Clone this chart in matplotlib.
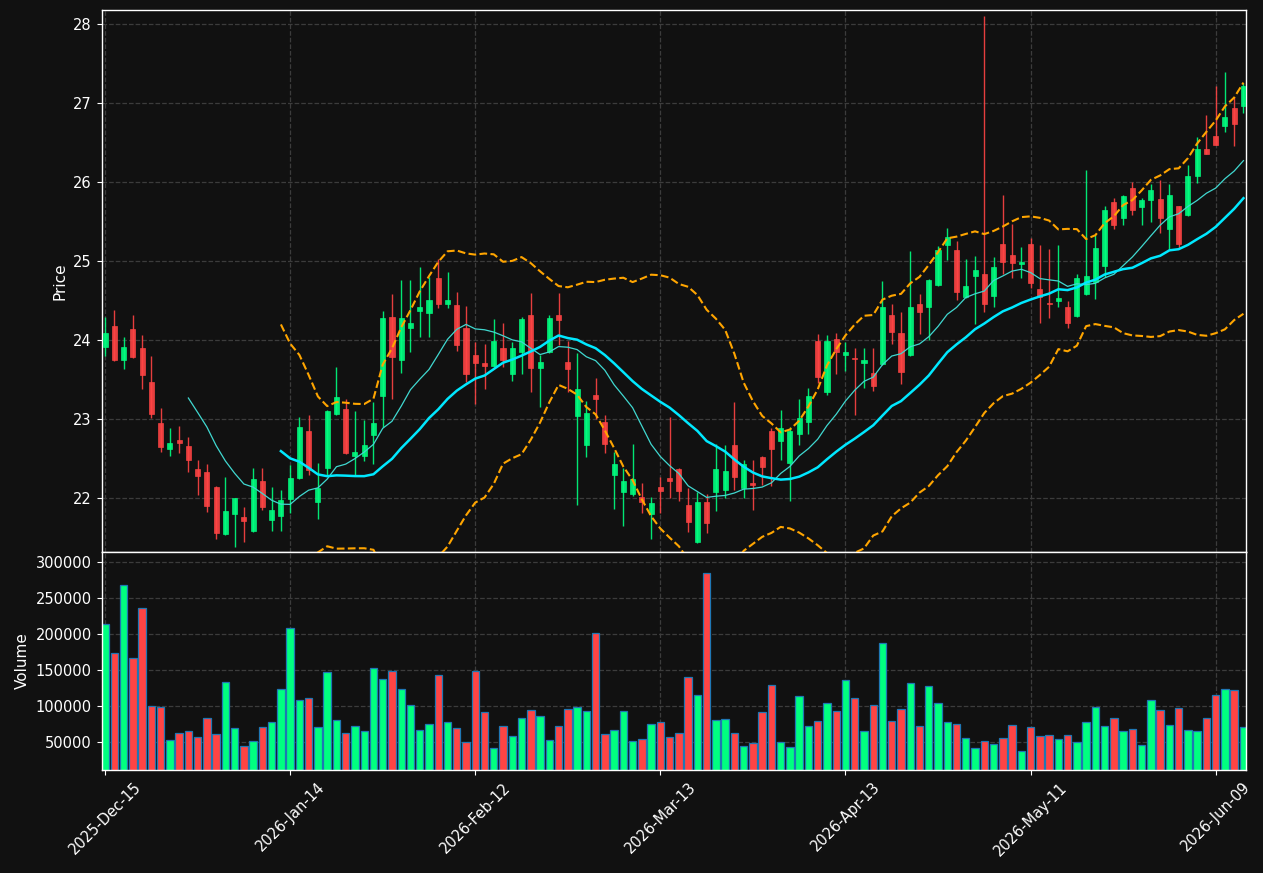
import numpy as np
import pandas as pd
import matplotlib
matplotlib.use("Agg")
import matplotlib.pyplot as plt
from matplotlib.ticker import ScalarFormatter

# daily OHLCV, one value per trading day (124 bars)
opens = [23.91, 24.18, 23.74, 24.14, 23.89, 23.47, 22.94, 22.62, 22.73, 22.65,
         22.36, 22.32, 22.14, 21.54, 21.79, 21.75, 21.57, 22.21, 21.72, 21.77,
         21.98, 22.25, 22.84, 21.95, 22.37, 23.06, 23.12, 22.53, 22.53, 22.79,
         23.29, 24.29, 23.75, 24.15, 24.36, 24.34, 24.78, 24.46, 24.44, 24.15,
         23.81, 23.70, 23.67, 23.89, 23.57, 23.84, 24.32, 23.64, 23.84, 24.32,
         23.72, 23.03, 22.67, 23.30, 22.96, 22.28, 22.07, 22.04, 22.01, 21.79,
         22.14, 22.25, 22.36, 21.90, 21.44, 21.95, 22.07, 22.09, 22.66, 22.12,
         22.19, 22.52, 22.84, 22.72, 22.44, 22.81, 22.96, 23.99, 23.34, 24.01,
         23.81, 23.77, 23.71, 23.58, 23.69, 24.31, 24.08, 23.81, 24.46, 24.41,
         24.70, 25.20, 25.14, 24.54, 24.81, 24.83, 24.56, 25.22, 25.08, 24.96,
         25.22, 24.65, 24.46, 24.49, 24.41, 24.30, 24.58, 24.73, 24.93, 25.75,
         25.55, 25.93, 25.68, 25.77, 25.78, 25.41, 25.69, 25.58, 26.07, 26.42,
         26.58, 26.71, 26.94, 26.96]
highs = [24.29, 24.38, 24.04, 24.31, 24.06, 23.79, 23.14, 22.88, 22.91, 22.77,
         22.47, 22.42, 22.15, 22.26, 22.00, 21.88, 22.38, 22.38, 22.13, 22.10,
         22.41, 23.02, 23.05, 22.44, 23.11, 23.65, 23.25, 23.10, 22.98, 23.21,
         24.37, 24.58, 24.76, 24.76, 24.92, 24.79, 25.03, 24.86, 24.61, 24.43,
         23.97, 23.95, 24.26, 24.21, 23.97, 24.29, 24.59, 23.81, 24.31, 24.59,
         23.98, 23.83, 23.23, 23.52, 23.05, 22.58, 22.37, 22.68, 22.18, 22.01,
         22.26, 23.02, 22.38, 22.12, 22.07, 22.04, 22.68, 22.67, 23.21, 22.47,
         22.47, 22.53, 22.88, 23.11, 22.90, 23.25, 23.39, 24.07, 24.06, 24.09,
         23.97, 23.90, 23.90, 23.90, 24.74, 24.46, 24.35, 25.13, 24.58, 24.77,
         25.19, 25.42, 25.25, 25.03, 25.06, 28.10, 25.05, 25.84, 25.47, 25.18,
         25.29, 25.20, 25.15, 25.20, 24.49, 24.83, 26.15, 25.33, 25.69, 25.80,
         25.84, 26.00, 25.80, 25.97, 26.02, 25.98, 25.70, 26.21, 26.57, 26.85,
         27.22, 27.40, 27.08, 27.26]
lows = [23.79, 23.73, 23.63, 23.77, 23.37, 23.01, 22.58, 22.53, 22.57, 22.32,
        22.03, 21.82, 21.48, 21.53, 21.37, 21.44, 21.56, 21.84, 21.58, 21.58,
        21.80, 22.24, 22.29, 21.73, 22.29, 23.05, 22.55, 22.29, 22.46, 22.42,
        22.90, 23.25, 23.58, 23.85, 24.04, 24.04, 24.40, 24.40, 23.86, 23.46,
        23.19, 23.38, 23.66, 23.65, 23.48, 23.57, 23.34, 23.15, 23.83, 23.93,
        23.34, 21.90, 22.52, 22.99, 22.57, 21.85, 21.64, 22.02, 21.80, 21.47,
        21.81, 21.99, 21.96, 21.56, 21.42, 21.55, 21.83, 21.99, 22.10, 22.00,
        21.84, 22.16, 22.15, 22.48, 21.96, 22.66, 22.81, 23.45, 23.30, 23.57,
        23.61, 23.05, 23.39, 23.35, 23.68, 23.95, 23.44, 23.80, 24.07, 24.00,
        24.68, 25.01, 24.50, 24.53, 24.20, 24.35, 24.41, 24.84, 24.78, 24.78,
        24.66, 24.21, 24.28, 24.42, 24.15, 24.29, 24.57, 24.52, 24.79, 25.40,
        25.45, 25.58, 25.45, 25.49, 25.36, 25.14, 25.16, 25.57, 25.99, 26.36,
        26.47, 26.64, 26.46, 26.87]
closes = [24.09, 23.74, 23.91, 23.78, 23.55, 23.06, 22.64, 22.69, 22.69, 22.47,
          22.27, 21.89, 21.55, 21.83, 21.99, 21.70, 22.24, 21.88, 21.84, 21.97,
          22.25, 22.89, 22.35, 22.12, 23.10, 23.27, 22.57, 22.58, 22.67, 22.95,
          24.28, 23.78, 24.27, 24.21, 24.42, 24.51, 24.46, 24.51, 23.94, 23.57,
          23.71, 23.67, 23.98, 23.74, 23.90, 24.26, 23.64, 23.72, 24.27, 24.25,
          23.63, 23.37, 23.07, 23.25, 22.68, 22.42, 22.21, 22.24, 21.95, 21.93,
          22.08, 22.21, 22.08, 21.69, 21.95, 21.68, 22.36, 22.34, 22.26, 22.42,
          22.16, 22.39, 22.62, 22.88, 22.84, 23.01, 23.29, 23.53, 23.99, 23.85,
          23.84, 23.76, 23.74, 23.42, 24.42, 24.10, 23.59, 24.41, 24.35, 24.76,
          25.14, 25.30, 24.61, 24.68, 24.89, 24.45, 24.92, 24.99, 24.97, 24.99,
          24.72, 24.54, 24.45, 24.53, 24.21, 24.78, 24.81, 25.16, 25.65, 25.45,
          25.82, 25.64, 25.77, 25.90, 25.55, 25.83, 25.21, 26.08, 26.42, 26.36,
          26.47, 26.83, 26.74, 27.22]
volumes = [214800, 174300, 269300, 167300, 237200, 100300, 98900, 52800, 62600, 65400,
           57000, 83500, 61200, 133800, 69600, 44400, 51400, 71000, 78000, 124000,
           209200, 108700, 111500, 71000, 147800, 80700, 62600, 72400, 65400, 153400,
           138000, 149200, 124000, 101700, 66800, 75200, 143600, 78000, 69600, 50000,
           149200, 91900, 41700, 72400, 58400, 83500, 94700, 86300, 52800, 72400,
           96100, 98900, 93300, 202200, 61200, 66800, 93300, 51400, 54200, 75200,
           78000, 57000, 62600, 140800, 115700, 286000, 80700, 82100, 62600, 44400,
           48600, 91900, 129600, 50000, 43000, 114300, 72400, 79400, 104500, 93300,
           136600, 111500, 65400, 101700, 188300, 79400, 96100, 132400, 72400, 128200,
           104500, 78000, 75200, 55600, 41700, 51400, 47200, 55600, 73800, 37500,
           71000, 58400, 59800, 54200, 59800, 50000, 78000, 98900, 72400, 83500,
           65400, 68200, 45800, 108700, 94700, 73800, 97500, 66800, 65400, 83500,
           115700, 124000, 122600, 71000]

tick_labels = ["2025-Dec-15", "2026-Jan-14", "2026-Feb-12", "2026-Mar-13",
               "2026-Apr-13", "2026-May-11", "2026-Jun-09"]

bg = "#111111"
up_color = "#00ff80"
down_color = "#ff4444"

df = pd.DataFrame({"Open": opens, "High": highs, "Low": lows,
                   "Close": closes, "Volume": volumes})
x = np.arange(len(df))

mav10 = df["Close"].rolling(10).mean()
mav20 = df["Close"].rolling(20).mean()
std20 = df["Close"].rolling(20).std(ddof=0)
upper = mav20 + 2 * std20
lower = mav20 - 2 * std20

up = df["Close"] >= df["Open"]
colors = np.where(up, up_color, down_color)

fig = plt.figure(figsize=(12.63, 8.73), dpi=100, facecolor=bg)
ax1 = fig.add_axes([0.0804, 0.3677, 0.9061, 0.6208])
ax2 = fig.add_axes([0.0804, 0.1180, 0.9061, 0.2497], sharex=ax1)

for ax in (ax1, ax2):
    ax.set_facecolor(bg)
    ax.grid(True, color="#3c3c3c", linestyle="--", linewidth=0.9)
    ax.set_axisbelow(True)
    for s in ax.spines.values():
        s.set_color("white")
        s.set_linewidth(1.0)
    ax.tick_params(colors="white", labelsize=10.5)

# candles
body_bottom = np.minimum(df["Open"], df["Close"])
body_height = np.maximum((df["Close"] - df["Open"]).abs(), 0.012)
ax1.vlines(x, df["Low"], df["High"], colors=colors, linewidth=1.0, alpha=0.9, zorder=2)
ax1.bar(x, body_height, bottom=body_bottom, width=0.55, color=colors,
        edgecolor=colors, linewidth=0.5, alpha=0.9, zorder=3)

ax1.plot(x, mav10, color="#40d8d0", linewidth=0.9, zorder=4)
ax1.plot(x, mav20, color="#00e8ff", linewidth=1.8, zorder=4)
ax1.plot(x, upper, color="#ffa500", linewidth=1.5, linestyle="--", zorder=4)
ax1.plot(x, lower, color="#ffa500", linewidth=1.5, linestyle="--", zorder=4)

ax1.set_ylim(21.31, 28.18)
ax1.set_ylabel("Price", color="white", fontsize=11)
plt.setp(ax1.get_xticklabels(), visible=False)

# volume
ax2.bar(x, df["Volume"], width=0.8, color=colors, edgecolor="#1f77b4", linewidth=0.9)
ax2.set_ylim(0.3 * df["Volume"].min(), 1.1 * df["Volume"].max())
fmt = ScalarFormatter(useOffset=False)
fmt.set_scientific(False)
ax2.yaxis.set_major_formatter(fmt)
ax2.set_ylabel("Volume", color="white", fontsize=11)

ax2.set_xticks(np.arange(0, len(df), 20))
ax2.set_xticklabels(tick_labels, rotation=45, ha="center")
ax2.set_xlim(-0.38, 123.27)

fig.savefig("out.png", dpi=100, facecolor=bg)
